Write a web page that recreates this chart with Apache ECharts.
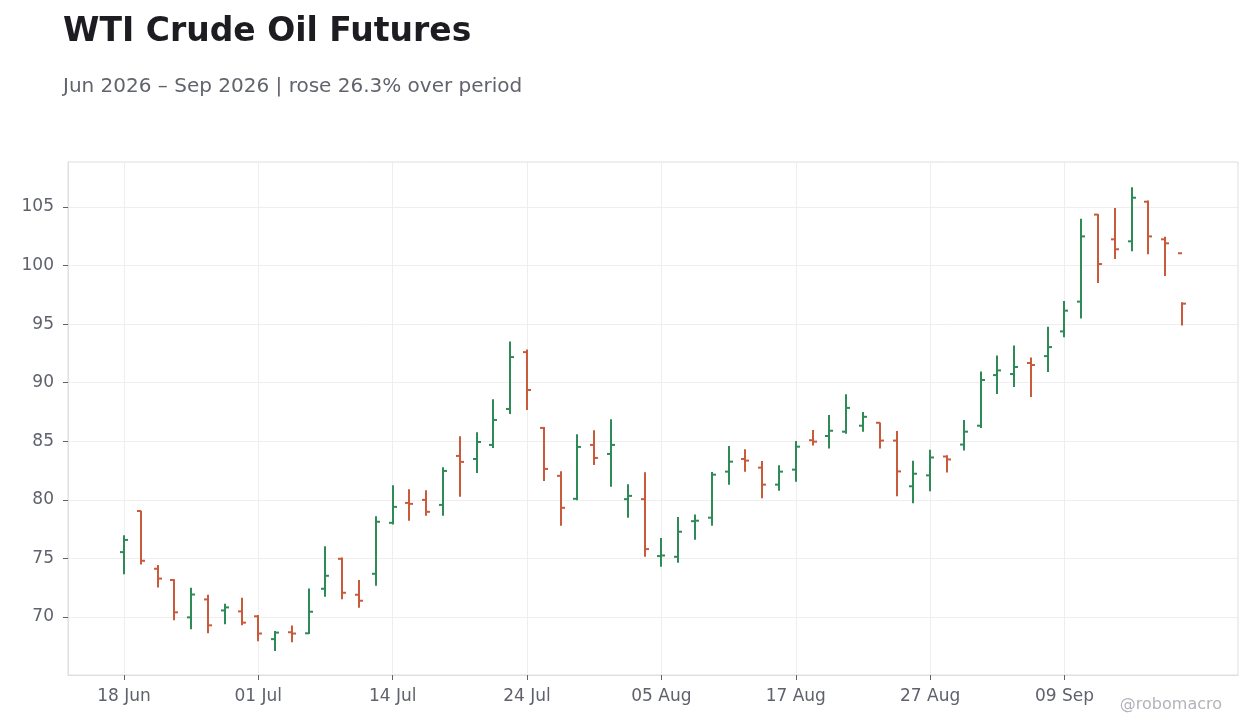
<!DOCTYPE html>
<html>
<head>
<meta charset="utf-8">
<title>WTI Crude Oil Futures</title>
<script src="https://cdn.jsdelivr.net/npm/echarts@6/dist/echarts.min.js"></script>
<style>
  html, body { margin: 0; padding: 0; background: #fff; }
  #chart { width: 1260px; height: 728px; }
</style>
</head>
<body>
<div id="chart"></div>
<script>
// trading days, Jun - Sep 2026
var dates = [
  '2026-06-18','2026-06-22','2026-06-23','2026-06-24','2026-06-25','2026-06-26','2026-06-29','2026-06-30',
  '2026-07-01','2026-07-02','2026-07-06','2026-07-07','2026-07-08','2026-07-09','2026-07-10','2026-07-13',
  '2026-07-14','2026-07-15','2026-07-16','2026-07-17','2026-07-20','2026-07-21','2026-07-22','2026-07-23',
  '2026-07-24','2026-07-27','2026-07-28','2026-07-29','2026-07-30','2026-07-31','2026-08-03','2026-08-04',
  '2026-08-05','2026-08-06','2026-08-07','2026-08-10','2026-08-11','2026-08-12','2026-08-13','2026-08-14',
  '2026-08-17','2026-08-18','2026-08-19','2026-08-20','2026-08-21','2026-08-24','2026-08-25','2026-08-26',
  '2026-08-27','2026-08-28','2026-08-31','2026-09-01','2026-09-02','2026-09-03','2026-09-04','2026-09-08',
  '2026-09-09','2026-09-10','2026-09-11','2026-09-14','2026-09-15','2026-09-16','2026-09-17','2026-09-18'
];

var openPx = [
  75.54, 79.05, 74.12, 73.16, 69.97, 71.50, 70.56, 70.48, 70.06, 68.11, 68.70, 68.61, 72.41, 74.97, 71.90, 73.69,
  78.04, 79.74, 80.00, 79.57, 83.75, 83.49, 84.69, 87.76, 92.61, 86.14, 82.05, 80.09, 84.69, 83.92, 80.06, 80.06,
  75.20, 75.14, 78.18, 78.48, 82.41, 83.49, 82.75, 81.30, 82.58, 85.09, 85.45, 85.82, 86.33, 86.58, 85.06, 81.16,
  82.09, 83.70, 84.72, 86.33, 90.65, 90.74, 91.68, 92.27, 94.38, 96.92, 104.35, 102.24, 102.07, 105.45, 102.24, 101.05
];
var highPx = [
  76.98, 79.08, 74.44, 73.22, 72.49, 71.89, 71.13, 71.64, 70.17, 68.81, 69.27, 72.44, 76.05, 75.09, 73.15, 78.61,
  81.25, 80.91, 80.82, 82.78, 85.43, 85.77, 88.58, 93.52, 92.84, 86.22, 82.44, 85.60, 85.94, 86.88, 81.34, 82.36,
  76.74, 78.53, 78.76, 82.38, 84.60, 84.32, 83.32, 82.95, 85.03, 85.97, 87.24, 89.01, 87.49, 86.61, 85.88, 83.33,
  84.27, 83.81, 86.81, 90.96, 92.33, 93.18, 92.16, 94.77, 96.97, 103.99, 104.41, 104.92, 106.69, 105.56, 102.46, 96.86
];
var lowPx = [
  73.64, 74.48, 72.51, 69.72, 68.95, 68.62, 69.38, 69.29, 67.94, 67.09, 67.85, 68.55, 71.73, 71.51, 70.80, 72.67,
  77.90, 78.21, 78.64, 78.64, 80.26, 82.30, 84.43, 87.33, 87.67, 81.62, 77.78, 79.97, 82.98, 81.11, 78.47, 75.14,
  74.29, 74.63, 76.60, 77.79, 81.30, 82.41, 80.13, 80.78, 81.55, 84.63, 84.38, 85.65, 85.82, 84.38, 80.31, 79.72,
  80.73, 82.34, 84.21, 86.13, 89.03, 89.63, 88.78, 90.91, 93.87, 95.48, 98.52, 100.55, 101.23, 100.97, 99.11, 94.89
];
var closePx = [
  76.58, 74.80, 73.28, 70.40, 71.92, 69.29, 70.82, 69.52, 68.59, 68.67, 68.59, 70.45, 73.52, 72.07, 71.39, 78.13,
  79.40, 79.66, 78.98, 82.47, 83.24, 84.94, 86.82, 92.19, 89.38, 82.64, 79.32, 84.52, 83.58, 84.69, 80.34, 75.80,
  75.25, 77.28, 78.22, 82.15, 83.26, 83.35, 81.30, 82.41, 84.54, 84.97, 85.90, 87.85, 87.09, 85.06, 82.43, 82.23,
  83.62, 83.45, 85.82, 90.23, 91.05, 91.34, 91.51, 93.04, 96.15, 102.49, 100.13, 101.39, 105.79, 102.49, 101.90, 96.75
];

var yTicks = [70, 75, 80, 85, 90, 95, 100, 105];
var xTickIdx = [0, 8, 16, 24, 32, 40, 48, 56];

var UP = '#2e8b57';
var DOWN = '#c95a3c';
var MONTHS = ['Jan','Feb','Mar','Apr','May','Jun','Jul','Aug','Sep','Oct','Nov','Dec'];

function fmtDate(s) {
  var p = s.split('-');
  return p[2] + ' ' + MONTHS[+p[1] - 1];
}

var ohlc = dates.map(function (d, i) {
  return [i, openPx[i], highPx[i], lowPx[i], closePx[i]];
});

function renderBar(params, api) {
  var i = api.value(0);
  var o = api.coord([i, api.value(1)]);
  var h = api.coord([i, api.value(2)]);
  var l = api.coord([i, api.value(3)]);
  var c = api.coord([i, api.value(4)]);
  var color = api.value(4) >= api.value(1) ? UP : DOWN;
  var x = Math.round(o[0]);
  var st = { stroke: color, lineWidth: 2 };
  return {
    type: 'group',
    children: [
      { type: 'line', shape: { x1: x, y1: h[1], x2: x, y2: l[1] }, style: st },
      { type: 'line', shape: { x1: x - 4, y1: o[1], x2: x, y2: o[1] }, style: st },
      { type: 'line', shape: { x1: x, y1: c[1], x2: x + 4, y2: c[1] }, style: st }
    ]
  };
}

var chart = echarts.init(document.getElementById('chart'));
chart.setOption({
  backgroundColor: '#ffffff',
  animation: false,
  title: [{
    text: 'WTI Crude Oil Futures',
    left: 63,
    top: 16,
    padding: 0,
    textStyle: { fontFamily: 'DejaVu Sans', fontSize: 33, fontWeight: 'bold', color: '#1c1c21' }
  }, {
    text: 'Jun 2026 \u2013 Sep 2026 | rose 26.3% over period',
    left: 63,
    top: 77,
    padding: 0,
    textStyle: { fontFamily: 'DejaVu Sans', fontSize: 20, fontWeight: 'normal', color: '#62646d' }
  }],
  graphic: [{
    type: 'text',
    right: 38,
    top: 697,
    style: { text: '@robomacro', font: '16px "DejaVu Sans"', fill: '#b3b3ba' }
  }],
  grid: {
    left: 68, right: 22, top: 162, bottom: 53,
    show: true, borderColor: '#dedee3', borderWidth: 1
  },
  xAxis: {
    type: 'value',
    min: -3.33,
    max: 66.33,
    axisLine: { show: true, onZero: false, lineStyle: { color: '#dedee3' } },
    axisTick: {
      show: true, length: 5,
      customValues: xTickIdx,
      lineStyle: { color: '#5f626b' }
    },
    axisLabel: {
      customValues: xTickIdx,
      margin: 13,
      fontFamily: 'DejaVu Sans',
      fontSize: 17,
      color: '#5f626b',
      formatter: function (v) { return dates[Math.round(v)] ? fmtDate(dates[Math.round(v)]) : ''; }
    },
    splitLine: { show: true, lineStyle: { color: '#eeeeee' } }
  },
  yAxis: {
    type: 'value',
    min: 65.05,
    max: 108.84,
    axisLine: { show: true, onZero: false, lineStyle: { color: '#dedee3' } },
    axisTick: {
      show: true, length: 5,
      customValues: yTicks,
      lineStyle: { color: '#5f626b' }
    },
    axisLabel: {
      customValues: yTicks,
      margin: 14,
      fontFamily: 'DejaVu Sans',
      fontSize: 17,
      color: '#5f626b'
    },
    splitLine: { show: true, lineStyle: { color: '#eeeeee' } }
  },
  series: [{
    type: 'custom',
    name: 'WTI',
    renderItem: renderBar,
    encode: { x: 0, y: [1, 2, 3, 4] },
    data: ohlc,
    clip: true
  }]
});
</script>
</body>
</html>
